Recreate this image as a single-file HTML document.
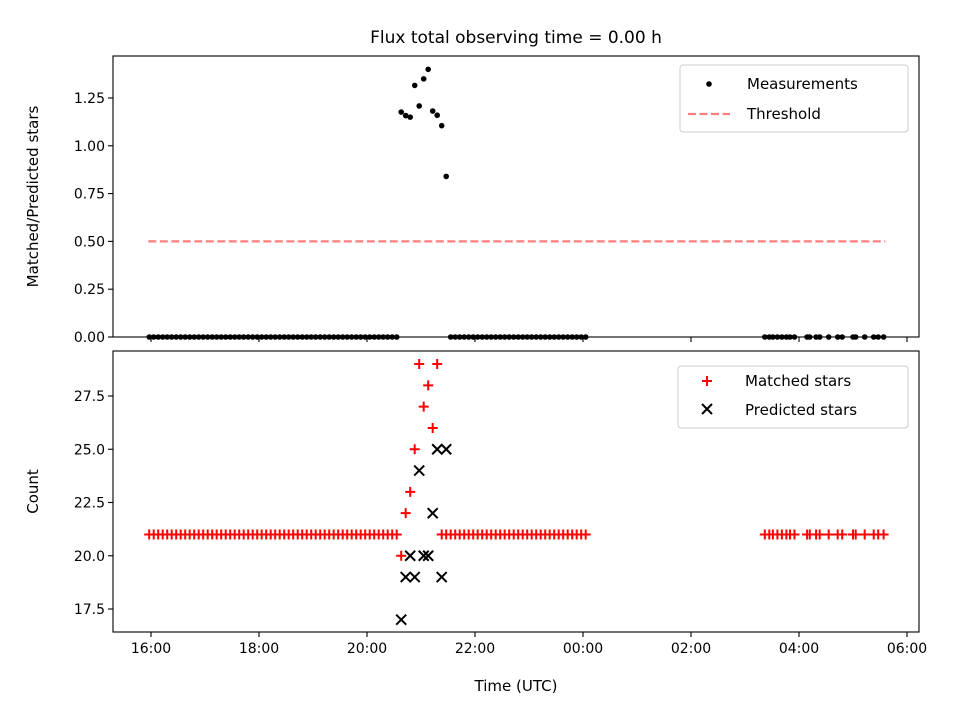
<!DOCTYPE html>
<html><head><meta charset="utf-8"><style>
body{margin:0;background:#fff}
svg{display:block;font-family:"DejaVu Sans","Liberation Sans",sans-serif}
</style></head><body>
<svg id="fig" width="960" height="720" viewBox="0 0 960 720">
<rect width="960" height="720" fill="#fff"/>
<text x="516" y="43" font-size="17" text-anchor="middle">Flux total observing time = 0.00 h</text>
<g id="top"></g>
<g id="bot"></g>
</svg>
<script>
// times in minutes since 16:00
const seg1Times=[-2,3,8,13,18,23,28,33,38,43,48,53,58,63,68,73,78,83,88,93,98,103,108,113,118,123,128,133,138,143,148,153,158,163,168,173,178,183,188,193,198,203,208,213,218,223,228,233,238,243,248,253,258,263,268,273];
const spikeTimes=[278,283,288,293,298,303,308,313,318,323,328];
const spikeMatched=[20,22,23,25,29,27,28,26,29,21,21];
const spikePredicted=[17,19,20,19,24,20,20,22,25,19,25];
const seg2Times=[333,338,343,348,353,358,363,368,373,378,383,388,393,398,403,408,413,418,423,428,433,438,443,448,453,458,463,468,473,478,483];
const seg3Times=[682,687,691,696,701,706,710,715,729,732,739,743,753,763,768,780,783,793,803,808,814];
const baseMatched=21;
const threshold=0.5;
const thresholdRange=[-3,816];
const xTickLabels=["16:00","18:00","20:00","22:00","00:00","02:00","04:00","06:00"];
const xTickMinutes=[0,120,240,360,480,600,720,840];
const topTicks=[0,0.25,0.5,0.75,1.0,1.25];
const botTicks=[17.5,20.0,22.5,25.0,27.5];

const NS="http://www.w3.org/2000/svg";
const L=113,R=919;
const X=m=>151+m*54/60;
const T={top:56,bot:337}, B={top:351,bot:632};
const YT=v=>337-v*191.2;
const YB=v=>609-(v-17.5)*21.3;
function mk(p,tag,a){const e=document.createElementNS(NS,tag);for(const k in a)e.setAttribute(k,a[k]);p.appendChild(e);return e;}
const gTop=document.getElementById('top'), gBot=document.getElementById('bot');

[[gTop,T,false],[gBot,B,true]].forEach(([g,P,lab])=>{
  xTickMinutes.forEach((m,i)=>{
    const t=mk(g,'line',{x1:X(m),x2:X(m),y1:P.bot,y2:P.bot+5,stroke:'#000','stroke-width':1.1});
    
    
    if(lab){const tx=mk(g,'text',{x:X(m),y:P.bot+21,'font-size':14,'text-anchor':'middle'});tx.textContent=xTickLabels[i];
      
      }
  });
});
topTicks.forEach(v=>{
  mk(gTop,'line',{x1:L-5,x2:L,y1:YT(v),y2:YT(v),stroke:'#000','stroke-width':1.1});
  const tx=mk(gTop,'text',{x:L-8,y:YT(v)+5,'font-size':14,'text-anchor':'end'});tx.textContent=v.toFixed(2);
  
  
});
botTicks.forEach(v=>{
  mk(gBot,'line',{x1:L-5,x2:L,y1:YB(v),y2:YB(v),stroke:'#000','stroke-width':1.1});
  const tx=mk(gBot,'text',{x:L-8,y:YB(v)+5,'font-size':14,'text-anchor':'end'});tx.textContent=v.toFixed(1);
  
  
});

const th=mk(gTop,'line',{x1:X(thresholdRange[0]),x2:X(thresholdRange[1]),y1:YT(threshold),y2:YT(threshold),stroke:'#ff7f7f','stroke-width':2.2,'stroke-dasharray':'8,3.5'});



const zeroTimes=seg1Times.concat(seg2Times,seg3Times);
zeroTimes.forEach(m=>{const c=mk(gTop,'circle',{cx:X(m),cy:YT(0),r:2.8,fill:'#000'});
  
  });
spikeTimes.forEach((m,i)=>{const c=mk(gTop,'circle',{cx:X(m),cy:YT(spikeMatched[i]/spikePredicted[i]),r:2.8,fill:'#000'});
  
  });

function plus(x,y){const p=mk(gBot,'path',{d:`M${x-5},${y}H${x+5}M${x},${y-5}V${y+5}`,stroke:'#f00','stroke-width':2});
  
  }
function cross(x,y){const p=mk(gBot,'path',{d:`M${x-5},${y-5}L${x+5},${y+5}M${x-5},${y+5}L${x+5},${y-5}`,stroke:'#000','stroke-width':2});
  
  }
zeroTimes.forEach(m=>plus(X(m),YB(baseMatched)));
spikeTimes.forEach((m,i)=>plus(X(m),YB(spikeMatched[i])));
spikeTimes.forEach((m,i)=>cross(X(m),YB(spikePredicted[i])));

[[gTop,T],[gBot,B]].forEach(([g,P])=>{mk(g,'rect',{x:L,y:P.top,width:R-L,height:P.bot-P.top,fill:'none',stroke:'#000','stroke-width':1.1});});

let t=mk(gTop,'text',{x:0,y:0,'font-size':15,'text-anchor':'middle',transform:`translate(38,${(T.top+T.bot)/2}) rotate(-90)`});t.textContent='Matched/Predicted stars';

t=mk(gBot,'text',{x:0,y:0,'font-size':15,'text-anchor':'middle',transform:`translate(38,${(B.top+B.bot)/2}) rotate(-90)`});t.textContent='Count';

t=mk(gBot,'text',{x:516,y:691,'font-size':15,'text-anchor':'middle'});t.textContent='Time (UTC)';


let lg=mk(gTop,'g',{});
mk(lg,'rect',{x:680,y:65,width:228,height:67,rx:3,fill:'#fff',stroke:'#ccc','stroke-width':1});
mk(lg,'circle',{cx:709,cy:84,r:2.8,fill:'#000'});
t=mk(lg,'text',{x:747,y:89,'font-size':15});t.textContent='Measurements';
mk(lg,'line',{x1:688,x2:730,y1:114,y2:114,stroke:'#ff7f7f','stroke-width':2.2,'stroke-dasharray':'8,3.5'});
t=mk(lg,'text',{x:747,y:119,'font-size':15});t.textContent='Threshold';
lg=mk(gBot,'g',{});
mk(lg,'rect',{x:678,y:366,width:230,height:62,rx:3,fill:'#fff',stroke:'#ccc','stroke-width':1});
mk(lg,'path',{d:'M702,381H712M707,376V386',stroke:'#f00','stroke-width':2});
t=mk(lg,'text',{x:745,y:386,'font-size':15});t.textContent='Matched stars';
mk(lg,'path',{d:'M702,404L712,414M702,414L712,404',stroke:'#000','stroke-width':2});
t=mk(lg,'text',{x:745,y:415,'font-size':15});t.textContent='Predicted stars';
</script>
</body></html>
